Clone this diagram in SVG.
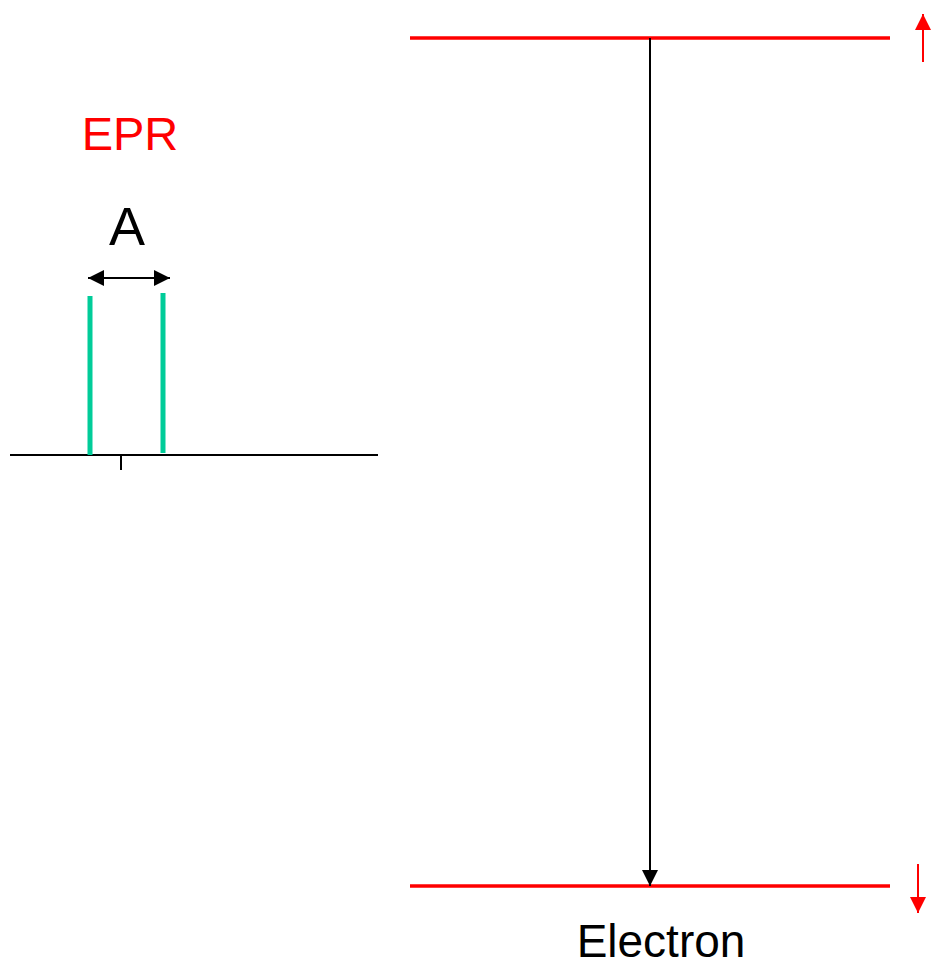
<svg xmlns="http://www.w3.org/2000/svg" width="931" height="963" viewBox="0 0 931 963">
<style>
.t{font-family:"Liberation Sans",Arial,sans-serif}
.lvl{stroke:#ff0000;stroke-width:3.5}
.blk{stroke:#000;stroke-width:2;fill:none}
.grn{stroke:#00cc99;stroke-width:5}
</style>
<defs>
<marker id="ah" markerWidth="16" markerHeight="16" refX="16" refY="8" orient="auto" markerUnits="userSpaceOnUse" viewBox="0 0 16 16"><path d="M0,0 L16,8 L0,16 Z" fill="#000"/></marker>
<marker id="ahs" markerWidth="16" markerHeight="16" refX="0" refY="8" orient="auto" markerUnits="userSpaceOnUse" viewBox="0 0 16 16"><path d="M16,0 L0,8 L16,16 Z" fill="#000"/></marker>
<marker id="rah" markerWidth="16" markerHeight="16" refX="16" refY="8" orient="auto" markerUnits="userSpaceOnUse" viewBox="0 0 16 16"><path d="M0,0 L16,8 L0,16 Z" fill="#ff0000"/></marker>
</defs>
<g id="spectrum">
<line x1="10" y1="455" x2="378" y2="455" class="blk"/>
<line x1="121" y1="455" x2="121" y2="470" class="blk"/>
<line x1="90" y1="296" x2="90" y2="455" class="grn"/>
<line x1="163" y1="293" x2="163" y2="453" class="grn"/>
</g>
<g id="labels">
<text x="130" y="150" class="t" font-size="47" fill="#ff0000" text-anchor="middle">EPR</text>
<text x="127" y="245" class="t" font-size="54" fill="#000" text-anchor="middle">A</text>
<text x="661" y="957" class="t" font-size="46" fill="#000" text-anchor="middle">Electron</text>
</g>
<g id="upper-level">
<line x1="410" y1="38" x2="890" y2="38" class="lvl"/>
<line x1="923" y1="62" x2="923" y2="14" stroke="#ff0000" stroke-width="2" marker-end="url(#rah)"/>
</g>
<g id="lower-level">
<line x1="410" y1="886" x2="890" y2="886" class="lvl"/>
<line x1="918" y1="864" x2="918" y2="913" stroke="#ff0000" stroke-width="2" marker-end="url(#rah)"/>
</g>
<g id="connectors">
<line x1="650" y1="38" x2="650" y2="886" class="blk" marker-end="url(#ah)"/>
<line x1="88" y1="278" x2="170" y2="278" class="blk" marker-start="url(#ahs)" marker-end="url(#ah)"/>
</g>
</svg>
